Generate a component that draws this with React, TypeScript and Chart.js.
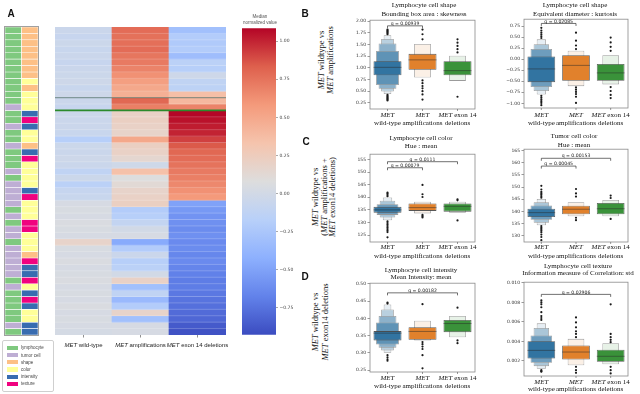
import React, { useEffect, useRef } from 'react';
import { Chart, registerables } from 'chart.js';

Chart.register(...registerables);

const SERIF = '"Liberation Serif", "Times New Roman", serif';
const SANS = '"DejaVu Sans", "Liberation Sans", sans-serif';
const ARIAL = '"Liberation Sans", Arial, sans-serif';

// ================= Panel A data =================
const heatmapColumns = ['*MET* wild-type', '*MET* amplifications', '*MET* exon 14 deletions'];
const annotationColumns = ['cell type', 'feature type'];
// L = lymphocyte, T = tumor cell
const rowCellType = 'LLLLLLLLLLLLTLLTLLTLLLTLTTTTLTLTTLTTTTTLTLLLLLTL'.split('');
// S = shape, C = color, I = intensity, X = texture
const rowFeature = 'SSSSSSSSCSCCCIXICCSIXCCCCIXCCCXXCCCSXIIXCIXICCII'.split('');
const wildTypeMedians = [
  -0.05, -0.07, -0.04, -0.06, -0.05, -0.07, -0.05, -0.04, -0.03, -0.06, -0.03, -0.05, -0.07,
  -0.04, -0.05, -0.05, -0.06, -0.18, -0.04, -0.05, -0.03, -0.05, -0.12, -0.04, -0.15, -0.08, -0.06,
  0.03, 0.04, 0.03, 0.05, 0.04, 0.03, 0.18, 0.04, 0.03, 0.05, 0.03, 0.04, 0.05, 0.03, 0.04, 0.03, 0.05, 0.03, 0.04, 0.03, 0.02,
];
const amplificationMedians = [
  0.78, 0.76, 0.77, 0.78, 0.74, 0.72, 0.68, 0.62, 0.55, 0.5, 0.45, 0.8, 0.7,
  0.2, 0.22, 0.2, 0.18, 0.5, 0.22, 0.2, 0.15, -0.02, 0.35, 0.08, 0.12, 0.18, 0.2,
  0.22, -0.2, -0.18, -0.1, 0.0, 0.03, -0.45, -0.2, -0.05, -0.18, -0.15, 0.0, 0.2, -0.3, -0.12, -0.35, -0.2, 0.18, -0.3, 0.03, 0.03,
];
const exon14Medians = [
  -0.3, -0.2, -0.22, -0.2, -0.32, -0.15, -0.18, -0.03, -0.12, -0.14, 0.36, 0.4, 0.68,
  1.08, 1.05, 1.02, 1.0, 0.92, 0.85, 0.8, 0.78, 0.75, 0.72, 0.7, 0.66, 0.62, 0.58,
  -0.5, -0.55, -0.58, -0.6, -0.62, -0.6, -0.63, -0.62, -0.65, -0.63, -0.66, -0.68, -0.7, -0.7, -0.72, -0.74, -0.76, -0.78, -0.8, -0.86, -0.9,
];
const separatorRows = [11, 13];
const colorScaleMin = -0.926;
const colorScaleMax = 1.085;
const colorbarStep = 0.25;
const legendItems = ['lymphocyte', 'tumor cell', 'shape', 'color', 'intensity', 'texture'];

// ================= Boxen panels data =================
type Rng = [number, number];
const boxenGroups = ['wild-type', 'amplifications', 'exon 14 deletions'];
const boxenTickLines = [['*MET*', 'wild-type'], ['*MET*', 'amplifications'], ['*MET* exon 14', 'deletions']];

// B left: Lymphocyte cell shape / Bounding box area : skewness
const skewLevels: Rng[][] = [
  [[0.84, 1.14], [0.63, 1.36], [0.55, 1.52], [0.49, 1.62], [0.44, 1.7]],
  [[0.96, 1.3], [0.79, 1.51]],
  [[0.84, 1.14], [0.72, 1.26]],
];
const skewMedians = [1.01, 1.17, 0.94];
const skewOutliers = [
  [1.72, 1.74, 1.76, 1.78, 1.8, 1.82, 0.42, 0.4, 0.38, 0.36, 0.34, 0.32, 0.3],
  [1.82, 1.72, 1.61, 0.73, 0.67, 0.61, 0.56, 0.5, 0.43, 0.32],
  [1.61, 1.54, 1.47, 1.4, 1.33, 0.38],
];
const skewBrackets: [number, number, number, string][] = [[0, 1, 1.9, 'q = 0.00939']];

// B right: Lymphocyte cell shape / Equivalent diameter : kurtosis
const kurtLevels: Rng[][] = [
  [[-0.52, 0.06], [-0.63, 0.23], [-0.72, 0.34], [-0.8, 0.45]],
  [[-0.49, 0.09], [-0.61, 0.19]],
  [[-0.49, -0.11], [-0.57, 0.09]],
];
const kurtMedians = [-0.22, -0.14, -0.31];
const kurtOutliers = [
  [0.48, 0.52, 0.56, 0.6, 0.65, 0.71, -0.83, -0.87, -0.91, -0.95, -0.99, -1.04],
  [0.6, 0.42, 0.31, 0.23, -0.64, -0.69, -0.74, -0.79, -0.85, -0.99],
  [0.49, 0.38, 0.28, 0.19, -0.63, -0.72, -0.81, -0.88],
];
const kurtBrackets: [number, number, number, string][] = [[0, 1, 0.81, 'q = 0.02085']];

// C left: Lymphocyte cell color / Hue : mean
const lymHueLevels: Rng[][] = [
  [[133.9, 136.2], [133.0, 137.2], [132.0, 138.6], [130.9, 139.9]],
  [[134.6, 137.5], [133.6, 138.2]],
  [[134.3, 137.5], [133.9, 138.2]],
];
const lymHueMedians = [135.0, 135.9, 136.4];
const lymHueOutliers = [
  [140.4, 140.9, 141.4, 141.8, 130.4, 129.8, 129.2, 128.6, 128.0, 127.4, 126.8, 126.2, 124.1],
  [144.9, 141.2, 140.1, 133.0, 132.5, 132.0],
  [139.2, 138.8, 130.8],
];
const lymHueBrackets: [number, number, number, string][] = [
  [0, 2, 154.1, 'q = 0.0111'],
  [0, 1, 151.7, 'q = 0.00079'],
];

// C right: Tumor cell color / Hue : mean
const tumHueLevels: Rng[][] = [
  [[137.7, 141.1], [136.6, 142.4], [135.3, 143.8], [134.3, 145.1]],
  [[138.8, 142.3], [138.0, 143.8]],
  [[138.8, 143.5], [138.0, 144.7]],
];
const tumHueMedians = [139.5, 140.9, 141.1];
const tumHueOutliers = [
  [145.6, 146.2, 146.8, 147.4, 148.0, 149.0, 150.5, 134.0, 133.4, 132.8, 132.2, 131.5, 130.5, 129.5, 128.2],
  [149.2, 147.4, 146.1, 137.4, 136.4],
  [146.5, 145.5, 136.9],
];
const tumHueBrackets: [number, number, number, string][] = [
  [0, 2, 161.8, 'q = 0.00153'],
  [0, 1, 158.6, 'q = 0.00045'],
];

// D left: Lymphocyte cell intensity / Mean Intensity: mean
const intensLevels: Rng[][] = [
  [[0.336, 0.363], [0.324, 0.388], [0.315, 0.407], [0.307, 0.426], [0.3, 0.44]],
  [[0.338, 0.374], [0.336, 0.393]],
  [[0.36, 0.395], [0.345, 0.407]],
];
const intensMedians = [0.357, 0.362, 0.385];
const intensOutliers = [
  [0.443, 0.446, 0.293, 0.287, 0.281, 0.277],
  [0.441, 0.331, 0.325, 0.318, 0.311, 0.293, 0.255],
  [0.431, 0.336, 0.328],
];
const intensBrackets: [number, number, number, string][] = [[0, 2, 0.474, 'q = 0.00182']];

// D right: Lymphocyte cell texture / Information measure of Correlation: std
const textureLevels: Rng[][] = [
  [[0.00224, 0.00402], [0.0018, 0.0046], [0.00146, 0.00538], [0.00119, 0.00585]],
  [[0.00214, 0.00359], [0.00156, 0.00426]],
  [[0.0019, 0.00315], [0.00166, 0.00382]],
];
const textureMedians = [0.00308, 0.00291, 0.00247];
const textureOutliers = [
  [0.0062, 0.0064, 0.0066, 0.007, 0.0075, 0.0078, 0.008, 0.0082, 0.00105, 0.00095, 0.00089],
  [0.00646, 0.00595, 0.00544, 0.00504, 0.00477, 0.00443, 0.00139, 0.00105, 0.00078],
  [0.0078, 0.00477, 0.00443, 0.00416, 0.00392, 0.00139, 0.00105, 0.00071],
];
const textureBrackets: [number, number, number, string][] = [[0, 2, 0.00882, 'q = 0.02906']];

// ================= styling helpers =================
const CW = [
  [59, 76, 192], [98, 130, 234], [141, 176, 254], [184, 208, 249], [221, 221, 221],
  [245, 196, 173], [244, 154, 123], [222, 96, 77], [180, 4, 38],
];
function coolwarm(v: number) {
  let t = (v - colorScaleMin) / (colorScaleMax - colorScaleMin);
  t = Math.max(0, Math.min(1, t));
  const p = t * (CW.length - 1);
  const i = Math.min(CW.length - 2, Math.floor(p));
  const f = p - i;
  const a = CW[i], b = CW[i + 1];
  return `rgb(${Math.round(a[0] + (b[0] - a[0]) * f)},${Math.round(a[1] + (b[1] - a[1]) * f)},${Math.round(a[2] + (b[2] - a[2]) * f)})`;
}
const categoryColors: Record<string, string> = {
  lymphocyte: '#7fc97f', 'tumor cell': '#beaed4', shape: '#fdc086',
  color: '#ffff99', intensity: '#386cb0', texture: '#f0027f',
};
const cellCode: Record<string, string> = { L: 'lymphocyte', T: 'tumor cell' };
const featCode: Record<string, string> = { S: 'shape', C: 'color', I: 'intensity', X: 'texture' };
const boxColors = ['#3274a1', '#e1812c', '#3a923a'];

function mixWhite(hex: string, t: number) {
  const n = parseInt(hex.slice(1), 16);
  const r = (n >> 16) & 255, g = (n >> 8) & 255, b = n & 255;
  const m = (c: number) => Math.round(c + (255 - c) * t);
  return `rgb(${m(r)},${m(g)},${m(b)})`;
}

function drawRich(ctx: CanvasRenderingContext2D, text: string, cx: number, cy: number, size: number, family: string, color: string) {
  const parts = text.split('*').map((s, i) => ({ s, it: i % 2 === 1, w: 0 })).filter((p) => p.s);
  let total = 0;
  parts.forEach((p) => {
    ctx.font = `${p.it ? 'italic ' : ''}${size}px ${family}`;
    p.w = ctx.measureText(p.s).width;
    total += p.w;
  });
  let x = cx - total / 2;
  ctx.fillStyle = color;
  ctx.textBaseline = 'middle';
  ctx.textAlign = 'left';
  parts.forEach((p) => {
    ctx.font = `${p.it ? 'italic ' : ''}${size}px ${family}`;
    ctx.fillText(p.s, x, cy);
    x += p.w;
  });
}

function fmt(v: number, d: number) {
  const s = Math.abs(v).toFixed(d);
  return v < -1e-12 ? '\u2212' + s : s;
}

// ================= chart builders =================
function buildHeatmap(canvas: HTMLCanvasElement) {
  const cols = [wildTypeMedians, amplificationMedians, exon14Medians];
  const nRows = wildTypeMedians.length;
  const datasets: any[] = [];
  for (let r = 0; r < nRows; r++) {
    datasets.push({
      data: cols.map(() => [r, r + 1]),
      backgroundColor: cols.map((c) => coolwarm(c[r])),
      borderWidth: 0,
      grouped: false,
      barPercentage: 1,
      categoryPercentage: 1,
    });
  }
  const sepStyles = [
    { color: 'rgba(60,95,85,0.55)', width: 1.2 },
    { color: '#2b8a2b', width: 1.6 },
  ];
  return new Chart(canvas, {
    type: 'bar',
    data: { labels: heatmapColumns, datasets },
    options: {
      animation: false, responsive: false, devicePixelRatio: 1,
      layout: { padding: { left: 5, right: 6, top: 2, bottom: 20 } },
      plugins: { legend: { display: false }, tooltip: { enabled: false } },
      scales: {
        x: { display: false },
        y: { display: false, min: 0, max: nRows, reverse: true },
      },
    },
    plugins: [{
      id: 'heatDecor',
      afterDatasetsDraw(chart: any) {
        const { ctx, chartArea: a, scales: { x, y } } = chart;
        ctx.save();
        ctx.strokeStyle = 'rgba(255,255,255,0.35)';
        ctx.lineWidth = 0.6;
        for (let r = 1; r < nRows; r++) {
          const py = y.getPixelForValue(r);
          ctx.beginPath(); ctx.moveTo(a.left, py); ctx.lineTo(a.right, py); ctx.stroke();
        }
        separatorRows.forEach((r, i) => {
          const py = y.getPixelForValue(r);
          ctx.strokeStyle = sepStyles[i].color;
          ctx.lineWidth = sepStyles[i].width;
          ctx.beginPath(); ctx.moveTo(a.left, py); ctx.lineTo(a.right, py); ctx.stroke();
        });
        heatmapColumns.forEach((lab, i) => {
          const px = x.getPixelForValue(i);
          ctx.strokeStyle = '#444'; ctx.lineWidth = 0.6;
          ctx.beginPath(); ctx.moveTo(px, a.bottom); ctx.lineTo(px, a.bottom + 2.5); ctx.stroke();
          drawRich(ctx, lab, px, a.bottom + 10, 6, ARIAL, '#222');
        });
        ctx.restore();
      },
    }],
  } as any);
}

function buildAnnotation(canvas: HTMLCanvasElement) {
  const nRows = rowCellType.length;
  const datasets: any[] = [];
  for (let r = 0; r < nRows; r++) {
    datasets.push({
      data: [[r, r + 1], [r, r + 1]],
      backgroundColor: [categoryColors[cellCode[rowCellType[r]]], categoryColors[featCode[rowFeature[r]]]],
      borderColor: '#ffffff',
      borderWidth: 0.6,
      borderSkipped: false,
      grouped: false,
      barPercentage: 1,
      categoryPercentage: 1,
    });
  }
  return new Chart(canvas, {
    type: 'bar',
    data: { labels: annotationColumns, datasets },
    options: {
      animation: false, responsive: false, devicePixelRatio: 1,
      layout: { padding: { left: 5, right: 6, top: 3, bottom: 4 } },
      plugins: { legend: { display: false }, tooltip: { enabled: false } },
      scales: {
        x: { display: false },
        y: { display: false, min: 0, max: nRows, reverse: true },
      },
    },
    plugins: [{
      id: 'annFrame',
      afterDatasetsDraw(chart: any) {
        const { ctx, chartArea: a } = chart;
        ctx.save();
        ctx.strokeStyle = '#a0a0a0'; ctx.lineWidth = 1;
        ctx.strokeRect(a.left - 0.5, a.top - 0.5, a.right - a.left + 1, a.bottom - a.top + 1);
        ctx.restore();
      },
    }],
  } as any);
}

function buildColorbar(canvas: HTMLCanvasElement) {
  return new Chart(canvas, {
    type: 'bar',
    data: {
      labels: ['median'],
      datasets: [{
        data: [[colorScaleMin, colorScaleMax]],
        backgroundColor: (c: any) => {
          const ch = c.chart; const a = ch.chartArea;
          if (!a) return '#ccc';
          const g = ch.ctx.createLinearGradient(0, a.bottom, 0, a.top);
          CW.forEach((rgb, i) => g.addColorStop(i / (CW.length - 1), `rgb(${rgb.join(',')})`));
          return g;
        },
        borderWidth: 0, barPercentage: 1, categoryPercentage: 1,
      }],
    },
    options: {
      animation: false, responsive: false, devicePixelRatio: 1,
      layout: { padding: { left: 5, right: 0, top: 3, bottom: 4 } },
      plugins: { legend: { display: false }, tooltip: { enabled: false } },
      scales: {
        x: { display: false },
        y: {
          position: 'right', min: colorScaleMin, max: colorScaleMax,
          afterFit: (s: any) => { s.width = 21; },
          ticks: {
            stepSize: colorbarStep, includeBounds: false, padding: 1.5,
            font: { family: SANS, size: 4.5 }, color: '#444',
            callback: (v: any) => fmt(Number(v), 2),
          },
          grid: { display: true, drawOnChartArea: false, drawTicks: true, tickLength: 2, color: '#555', lineWidth: 0.5 },
          border: { display: false },
        },
      },
    },
  } as any);
}

interface BoxenSpec {
  rect: [number, number, number, number];
  min: number; max: number; step: number; decimals: number;
  levels: Rng[][]; medians: number[]; outliers: number[][];
  brackets: [number, number, number, string][];
  labelOffsets: [number, number];
}
const YW = 24, PADL = 2, PADT = 3, PADR = 3, PADB = 26;

function boxenBuilder(spec: BoxenSpec) {
  return (canvas: HTMLCanvasElement) => {
    const datasets: any[] = [];
    spec.levels.forEach((groupLevels, gi) => {
      const n = groupLevels.length;
      groupLevels.forEach((rng, k) => {
        datasets.push({
          type: 'bar',
          data: boxenGroups.map((_, j) => (j === gi ? rng : null)),
          backgroundColor: k === 0 ? boxColors[gi] : mixWhite(boxColors[gi], (0.88 * k) / Math.max(1, n - 1)),
          borderColor: k === 0 ? 'rgba(70,70,70,0.9)' : 'rgba(150,150,150,0.95)',
          borderWidth: 0.8,
          borderSkipped: false,
          grouped: false,
          categoryPercentage: 1,
          barPercentage: 0.8 * (1 - k / (n + 0.5)),
          order: k + 1,
        });
      });
    });
    datasets.push({
      type: 'scatter',
      data: spec.outliers.flatMap((vals, gi) => vals.map((v) => ({ x: boxenGroups[gi], y: v }))),
      pointRadius: 1.1,
      pointBackgroundColor: '#1a1a1a',
      pointBorderWidth: 0,
      order: 0,
    });
    return new Chart(canvas, {
      type: 'bar',
      data: { labels: boxenGroups, datasets },
      options: {
        animation: false, responsive: false, devicePixelRatio: 1,
        layout: { padding: { left: PADL, right: PADR, top: PADT, bottom: PADB } },
        plugins: { legend: { display: false }, tooltip: { enabled: false } },
        scales: {
          x: { type: 'category', display: false },
          y: {
            min: spec.min, max: spec.max,
            afterFit: (s: any) => { s.width = YW; },
            ticks: {
              stepSize: spec.step, includeBounds: false, padding: 1.5,
              font: { family: SANS, size: 4.5 }, color: '#333',
              callback: (v: any) => fmt(Number(v), spec.decimals),
            },
            grid: { display: true, drawOnChartArea: false, drawTicks: true, tickLength: 2.5, color: '#555', lineWidth: 0.6 },
            border: { display: false },
          },
        },
      },
      plugins: [{
        id: 'boxenDecor',
        afterDatasetsDraw(chart: any) {
          const { ctx, chartArea: a, scales: { x, y } } = chart;
          const catW = (a.right - a.left) / boxenGroups.length;
          ctx.save();
          // medians
          spec.medians.forEach((m, gi) => {
            const cx = x.getPixelForValue(gi);
            const py = y.getPixelForValue(m);
            ctx.strokeStyle = 'rgba(40,40,40,0.6)';
            ctx.lineWidth = 0.8;
            ctx.beginPath(); ctx.moveTo(cx - catW * 0.4, py); ctx.lineTo(cx + catW * 0.4, py); ctx.stroke();
          });
          // frame
          ctx.strokeStyle = '#8a8a8a'; ctx.lineWidth = 0.8;
          ctx.strokeRect(a.left, a.top, a.right - a.left, a.bottom - a.top);
          // brackets
          spec.brackets.forEach(([g1, g2, v, txt]) => {
            const x1 = x.getPixelForValue(g1), x2 = x.getPixelForValue(g2), py = y.getPixelForValue(v);
            ctx.strokeStyle = '#333'; ctx.lineWidth = 0.7;
            ctx.beginPath();
            ctx.moveTo(x1, py + 2.5); ctx.lineTo(x1, py); ctx.lineTo(x2, py); ctx.lineTo(x2, py + 2.5);
            ctx.stroke();
            ctx.font = `4.6px ${SANS}`; ctx.fillStyle = '#222';
            ctx.textAlign = 'center'; ctx.textBaseline = 'bottom';
            ctx.fillText(txt, (x1 + x2) / 2, py + 0.3);
          });
          // x tick marks and labels
          boxenTickLines.forEach((lines, gi) => {
            const cx = x.getPixelForValue(gi);
            ctx.strokeStyle = '#555'; ctx.lineWidth = 0.6;
            ctx.beginPath(); ctx.moveTo(cx, a.bottom); ctx.lineTo(cx, a.bottom + 2); ctx.stroke();
            lines.forEach((l, li) => drawRich(ctx, l, cx, a.bottom + spec.labelOffsets[li], 7, SERIF, '#111'));
          });
          ctx.restore();
        },
      }],
    } as any);
  };
}

const panelSpecs: Record<string, BoxenSpec> = {
  skew: { rect: [370, 19, 476, 109], min: 0.117, max: 2.021, step: 0.25, decimals: 2, levels: skewLevels, medians: skewMedians, outliers: skewOutliers, brackets: skewBrackets, labelOffsets: [6, 14.5] },
  kurt: { rect: [524, 18, 629, 108], min: -1.105, max: 0.906, step: 0.25, decimals: 2, levels: kurtLevels, medians: kurtMedians, outliers: kurtOutliers, brackets: kurtBrackets, labelOffsets: [7, 15.5] },
  lymHue: { rect: [370, 153, 476, 242], min: 122.26, max: 157.07, step: 5, decimals: 0, levels: lymHueLevels, medians: lymHueMedians, outliers: lymHueOutliers, brackets: lymHueBrackets, labelOffsets: [5.5, 14] },
  tumHue: { rect: [524, 148, 629, 242], min: 127.45, max: 165.53, step: 5, decimals: 0, levels: tumHueLevels, medians: tumHueMedians, outliers: tumHueOutliers, brackets: tumHueBrackets, labelOffsets: [5.5, 14] },
  intens: { rect: [370, 282, 476, 372], min: 0.2443, max: 0.502, step: 0.05, decimals: 2, levels: intensLevels, medians: intensMedians, outliers: intensOutliers, brackets: intensBrackets, labelOffsets: [6, 14.5] },
  texture: { rect: [524, 281, 629, 376], min: 0.000451, max: 0.01007, step: 0.002, decimals: 3, levels: textureLevels, medians: textureMedians, outliers: textureOutliers, brackets: textureBrackets, labelOffsets: [6, 13] },
};
const panelBuilders: Record<string, (c: HTMLCanvasElement) => Chart> = {};
Object.keys(panelSpecs).forEach((k) => { panelBuilders[k] = boxenBuilder(panelSpecs[k]); });

// ================= React components =================
function ChartBox({ left, top, width, height, build }: { left: number; top: number; width: number; height: number; build: (c: HTMLCanvasElement) => Chart }) {
  const ref = useRef<HTMLCanvasElement>(null);
  useEffect(() => {
    if (!ref.current) return;
    const chart = build(ref.current);
    return () => chart.destroy();
  }, [build]);
  return <canvas ref={ref} width={width} height={height} style={{ position: 'absolute', left, top, width, height }} />;
}

function BoxenPanel({ name }: { name: string }) {
  const s = panelSpecs[name];
  const [x0, y0, x1, y1] = s.rect;
  return (
    <ChartBox
      left={x0 - YW - PADL}
      top={y0 - PADT}
      width={x1 - x0 + YW + PADL + PADR}
      height={y1 - y0 + PADT + PADB}
      build={panelBuilders[name]}
    />
  );
}

function Rich({ text }: { text: string }) {
  return <>{text.split('*').map((s, i) => (i % 2 ? <i key={i}>{s}</i> : <span key={i}>{s}</span>))}</>;
}

function Label({ x, y, lines, size, family, lh, rotate, bold, color }: {
  x: number; y: number; lines: string[]; size: number; family: string; lh: number; rotate?: boolean; bold?: boolean; color?: string;
}) {
  const style: any = {
    position: 'absolute', left: x, top: y,
    transform: `translate(-50%, -50%)${rotate ? ' rotate(-90deg)' : ''}`,
    fontSize: size, fontFamily: family, lineHeight: `${lh}px`, textAlign: 'center',
    whiteSpace: 'nowrap', fontWeight: bold ? 700 : 400, color: color || '#111',
  };
  if (!rotate) style.willChange = 'transform';
  return (
    <div style={style}>
      {lines.map((l, i) => <div key={i}><Rich text={l} /></div>)}
    </div>
  );
}

export default function App() {
  return (
    <div style={{ position: 'absolute', left: 0, top: 0, width: 640, height: 394, overflow: 'hidden', background: '#fff' }}>
      {/* Panel letters */}
      <Label x={11} y={13} lines={['A']} size={10} family={ARIAL} lh={11} bold />
      <Label x={305} y={13} lines={['B']} size={10} family={ARIAL} lh={11} bold />
      <Label x={306} y={141} lines={['C']} size={10} family={ARIAL} lh={11} bold />
      <Label x={305} y={276} lines={['D']} size={10} family={ARIAL} lh={11} bold />

      {/* Panel A */}
      <ChartBox left={0} top={24} width={44} height={315} build={buildAnnotation} />
      <ChartBox left={50} top={25} width={182} height={330} build={buildHeatmap} />
      <ChartBox left={237} top={24} width={60} height={315} build={buildColorbar} />
      <Label x={259.5} y={19.7} lines={['Median', 'normalized value']} size={4.5} family={ARIAL} lh={6} color="#555" />
      <div style={{ position: 'absolute', left: 2, top: 340, width: 50, height: 50, border: '1px solid #cfcfcf', borderRadius: 2 }}>
        {legendItems.map((it, i) => (
          <React.Fragment key={it}>
            <div style={{ position: 'absolute', left: 4, top: 4.8 + i * 7.2, width: 11, height: 4.2, background: categoryColors[it] }} />
            <div style={{ position: 'absolute', left: 18, top: 4.3 + i * 7.2, fontSize: 4.5, lineHeight: '5px', fontFamily: ARIAL, color: '#444', whiteSpace: 'nowrap' }}>{it}</div>
          </React.Fragment>
        ))}
      </div>

      {/* Row labels */}
      <Label x={326} y={60} lines={['*MET* wildtype vs', '*MET* amplifications']} size={8.5} family={SERIF} lh={9} rotate />
      <Label x={324} y={197} lines={['*MET* wildtype vs', '(*MET* amplifications +', '*MET* exon14 deletions)']} size={8.5} family={SERIF} lh={8.7} rotate />
      <Label x={320} y={322} lines={['*MET* wildtype vs', '*MET* exon14 deletions']} size={8.5} family={SERIF} lh={9.5} rotate />

      {/* Titles */}
      <Label x={424} y={9.3} lines={['Lymphocyte cell shape', 'Bounding box area : skewness']} size={7} family={SERIF} lh={8.5} />
      <Label x={575} y={9.3} lines={['Lymphocyte cell shape', 'Equivalent diameter : kurtosis']} size={7} family={SERIF} lh={8.5} />
      <Label x={421} y={141.5} lines={['Lymphocyte cell color', 'Hue : mean']} size={7} family={SERIF} lh={8.4} />
      <Label x={574} y={139.8} lines={['Tumor cell color', 'Hue : mean']} size={7} family={SERIF} lh={8.5} />
      <Label x={421} y={273.7} lines={['Lymphocyte cell intensity', 'Mean Intensity: mean']} size={7} family={SERIF} lh={7.4} />
      <Label x={578} y={269.7} lines={['Lymphocyte cell texture', 'Information measure of Correlation: std']} size={7} family={SERIF} lh={7.4} />

      {/* Boxen panels */}
      <BoxenPanel name="skew" />
      <BoxenPanel name="kurt" />
      <BoxenPanel name="lymHue" />
      <BoxenPanel name="tumHue" />
      <BoxenPanel name="intens" />
      <BoxenPanel name="texture" />
    </div>
  );
}
